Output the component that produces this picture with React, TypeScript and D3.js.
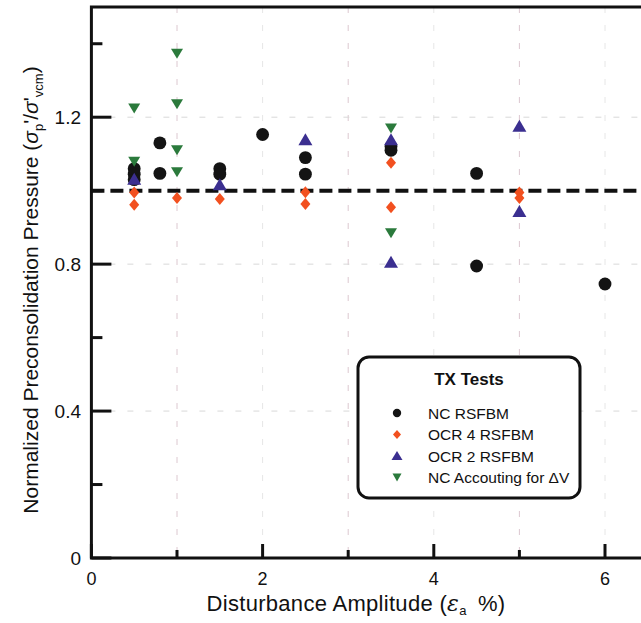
import React from "react";
import * as d3 from "d3";

const ncX = [0.5, 0.5, 0.5, 0.8, 0.8, 1.5, 1.5, 2, 2.5, 2.5, 3.5, 3.5, 4.5, 4.5, 6];
const ncY = [1.06, 1.045, 1.03, 1.13, 1.047, 1.06, 1.045, 1.153, 1.09, 1.045, 1.12, 1.11, 1.047, 0.795, 0.746];
const ocr4X = [0.5, 0.5, 1, 1.5, 2.5, 2.5, 3.5, 3.5, 5, 5];
const ocr4Y = [0.995, 0.962, 0.98, 0.977, 0.996, 0.964, 1.076, 0.955, 0.995, 0.98];
const ocr2X = [0.5, 1.5, 2.5, 3.5, 3.5, 5, 5];
const ocr2Y = [1.03, 1.015, 1.137, 1.137, 0.804, 1.174, 0.942];
const dvX = [0.5, 0.5, 1, 1, 1, 1, 3.5, 3.5];
const dvY = [1.224, 1.079, 1.373, 1.235, 1.11, 1.05, 1.169, 0.884];

const xMajor = [0, 2, 4, 6];
const xMinor = [1, 3, 5];
const yMajor = [0, 0.4, 0.8, 1.2];
const yMinor = [0.2, 0.6, 1.0, 1.4];
const yLabels = ["0", "0.4", "0.8", "1.2"];
const xLabels = ["0", "2", "4", "6"];
const refValue = 1.0;

const legendItems = ["NC RSFBM", "OCR 4 RSFBM", "OCR 2 RSFBM", "NC Accouting for \u0394V"];

const BLACK = "#141414";
const RED = "#f2501f";
const BLUE = "#3b2f90";
const GREEN = "#2b7a3c";

export default function App() {
  const x = d3.scaleLinear().domain([0, 7]).range([91.4, 91.4 + 85.6 * 7]);
  const y = d3.scaleLinear().domain([0, 1.5]).range([558, 7]);
  const font = "'Liberation Sans', Arial, sans-serif";

  const circle = d3.symbol().type(d3.symbolCircle).size(130)();
  const diamond = "M0,-6L5,0L0,6L-5,0Z";
  const triUp = "M0,-7L7,5L-7,5Z";
  const triDown = "M-6,-5L6,-5L0,5Z";

  const marker = (kind: string, color: string, cx: number, cy: number, key: string) => {
    const d = kind === "c" ? circle : kind === "d" ? diamond : kind === "u" ? triUp : triDown;
    return <path key={key} d={d} fill={color} transform={`translate(${cx},${cy})`} />;
  };

  const left = x(0);
  const bottom = y(0);
  const top = y(1.5);
  const right = 700;

  return (
    <svg width={641} height={623} style={{ position: "absolute", left: 0, top: 0, background: "#fff" }} fontFamily={font}>
      {/* grid */}
      {xMinor.map((v) => (
        <line key={"gx" + v} x1={x(v)} x2={x(v)} y1={top} y2={bottom} stroke="#dcc8d0" strokeWidth={1} strokeDasharray="6,12" />
      ))}
      {xMajor.filter((v) => v > 0).map((v) => (
        <line key={"gX" + v} x1={x(v)} x2={x(v)} y1={top} y2={bottom} stroke="#e6e6e6" strokeWidth={1} strokeDasharray="6,12" />
      ))}
      {yMajor.filter((v) => v > 0).map((v) => (
        <line key={"gy" + v} x1={left} x2={right} y1={y(v)} y2={y(v)} stroke="#d8d8d8" strokeWidth={1} strokeDasharray="6,12" />
      ))}
      {/* reference line */}
      <line x1={left} x2={right} y1={y(refValue)} y2={y(refValue)} stroke="#111" strokeWidth={4} strokeDasharray="13,6" />
      {/* frame */}
      <path d={`M${right},${top}H${left}V${bottom}H${right}`} fill="none" stroke="#111" strokeWidth={3} />
      {/* ticks */}
      {xMajor.map((v) => (
        <line key={"tx" + v} x1={x(v)} x2={x(v)} y1={bottom} y2={bottom - 14} stroke="#111" strokeWidth={3} />
      ))}
      {xMinor.map((v) => (
        <line key={"tmx" + v} x1={x(v)} x2={x(v)} y1={bottom} y2={bottom - 8} stroke="#111" strokeWidth={3} />
      ))}
      {yMajor.map((v) => (
        <line key={"ty" + v} x1={left} x2={left + 20} y1={y(v)} y2={y(v)} stroke="#111" strokeWidth={3} />
      ))}
      {yMinor.map((v) => (
        <line key={"tmy" + v} x1={left} x2={left + 11} y1={y(v)} y2={y(v)} stroke="#111" strokeWidth={3} />
      ))}
      {/* tick labels */}
      {xMajor.map((v, i) => (
        <text key={"lx" + v} x={x(v)} y={585} textAnchor="middle" fontSize={18} fill="#111">{xLabels[i]}</text>
      ))}
      {yMajor.map((v, i) => (
        <text key={"ly" + v} x={81} y={y(v) + 7} textAnchor="end" fontSize={19} fill="#111">{yLabels[i]}</text>
      ))}
      {/* axis titles */}
      <text x={356} y={611} textAnchor="middle" fontSize={22} letterSpacing={0.3} fill="#111">
        Disturbance Amplitude (<tspan fontStyle="italic" fontFamily="'DejaVu Serif', serif">{"\u03b5"}</tspan>
        <tspan fontSize={13} dy={4}>a</tspan>
        <tspan dy={-4}>{"\u2002%)"}</tspan>
      </text>
      <text transform="translate(38,290) rotate(-90)" textAnchor="middle" fontSize={21} fill="#111">
        Normalized Preconsolidation Pressure (<tspan fontStyle="italic">{"\u03c3"}</tspan>
        <tspan fontSize={13} dy={5}>p</tspan>
        <tspan dy={-5}>{"'/"}</tspan>
        <tspan fontStyle="italic">{"\u03c3"}</tspan>
        <tspan>{"'"}</tspan>
        <tspan fontSize={13} dy={5}>vcm</tspan>
        <tspan dy={-5}>)</tspan>
      </text>
      {/* data */}
      {ncX.map((v, i) => marker("c", BLACK, x(v), y(ncY[i]), "nc" + i))}
      {ocr4X.map((v, i) => marker("d", RED, x(v), y(ocr4Y[i]), "o4" + i))}
      {ocr2X.map((v, i) => marker("u", BLUE, x(v), y(ocr2Y[i]), "o2" + i))}
      {dvX.map((v, i) => marker("v", GREEN, x(v), y(dvY[i]), "dv" + i))}
      {/* legend */}
      <rect x={358} y={357} width={222} height={141} rx={11} fill="#fff" stroke="#111" strokeWidth={3} />
      <text x={469} y={385} textAnchor="middle" fontSize={17} fontWeight="bold" fill="#111">TX Tests</text>
      {legendItems.map((t, i) => {
        const cy = 413 + i * 21.5;
        const kind = ["c", "d", "u", "v"][i];
        const col = [BLACK, RED, BLUE, GREEN][i];
        const sd = kind === "c" ? d3.symbol().type(d3.symbolCircle).size(55)() : kind === "d" ? "M0,-4.5L4,0L0,4.5L-4,0Z" : kind === "u" ? "M0,-5L5.5,4L-5.5,4Z" : "M-4.5,-4L4.5,-4L0,4Z";
        return (
          <g key={"lg" + i}>
            <path d={sd} fill={col} transform={`translate(397,${cy})`} />
            <text x={428} y={cy + 5.5} fontSize={15.5} fill="#111">{t}</text>
          </g>
        );
      })}
    </svg>
  );
}
